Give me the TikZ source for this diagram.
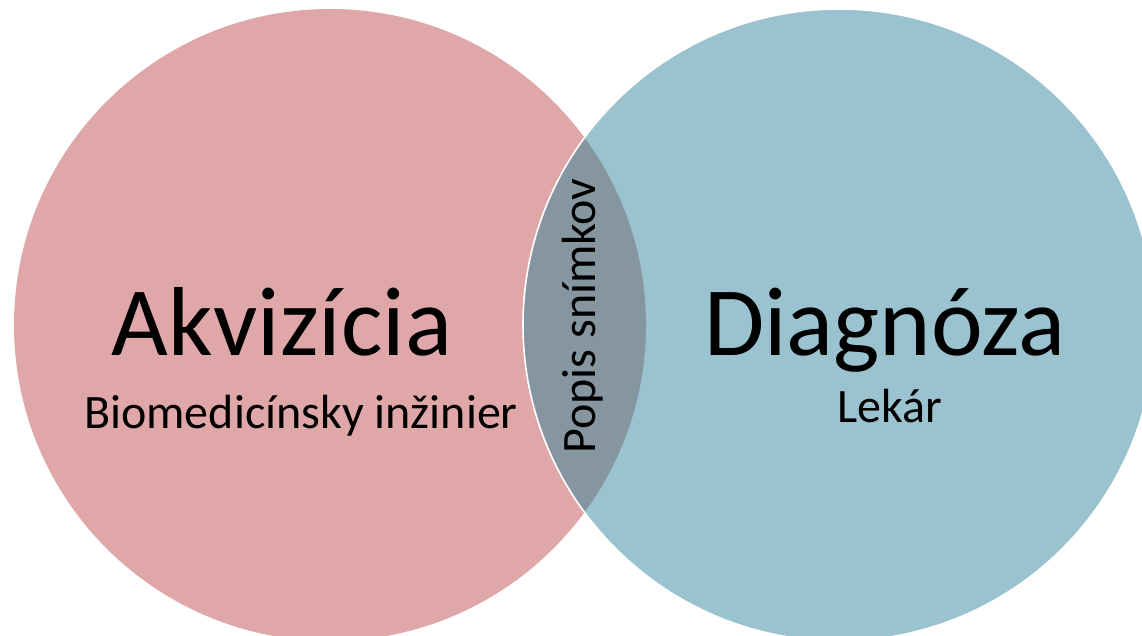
\documentclass[tikz,border=0pt]{standalone}
\usepackage{fontspec}
\setmainfont{Carlito}
\definecolor{akvcol}{HTML}{DFA7A7}
\definecolor{diacol}{HTML}{9AC3CF}
\definecolor{popcol}{HTML}{8696A1}
\begin{document}
\begin{tikzpicture}[x=1pt,y=-1pt,
    ring/.style = {shape = circle,
                   minimum size = 632pt,
                   inner sep = 0pt},
    big/.style = {font=\fontsize{98}{108}\selectfont, anchor=base, inner sep=0pt},
    small/.style = {font=\fontsize{48}{52}\selectfont, anchor=base, inner sep=0pt}]
    \useasboundingbox (0,0) rectangle (1142,636);
    \clip (0,0) rectangle (1142,636);
    \node[ring, fill=akvcol] (akv) at (330,325) {};
    \node[ring, fill=diacol] (dia) at (839,325) {};
    \begin{scope}
        \clip (akv.center) circle (316pt);
        \fill[popcol] (dia.center) circle (316pt);
    \end{scope}
    \draw[white, line width=1.6pt] (dia.center) circle (316pt);
    \node[big] (akvt) at (282,355) {Akvizícia};
    \node[small] (akvs) at (301,428) {Biomedicínsky inžinier};
    \node[big] (diat) at (885,355) {Diagnóza};
    \node[small] (dias) at (890,422) {Lekár};
    \node[small, anchor=center, rotate=90] (pop) at (583,316) {Popis snímkov};
\end{tikzpicture}
\end{document}
